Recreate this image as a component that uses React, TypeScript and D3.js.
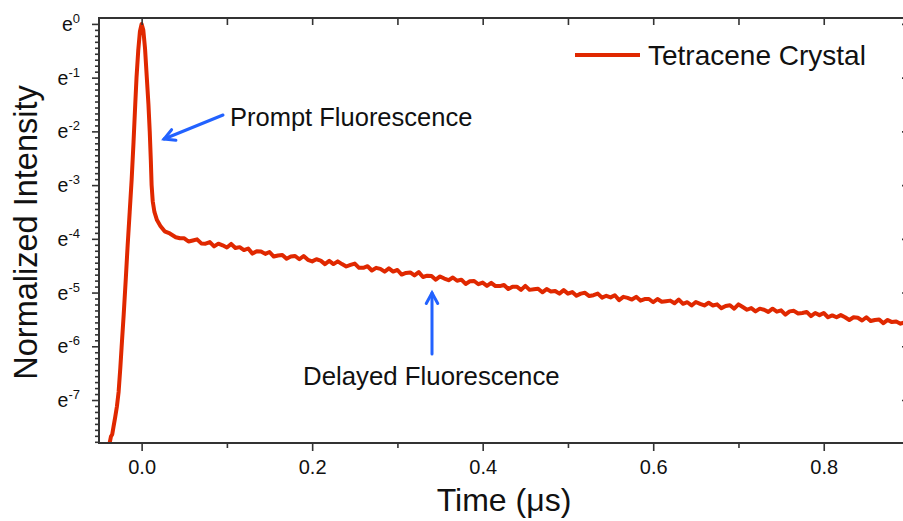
import React, { useEffect, useRef } from 'react';
import * as d3 from 'd3';

// tick values
const xMajor = [0, 0.2, 0.4, 0.6, 0.8];
const xMinor = [0.1, 0.3, 0.5, 0.7];
const yPowers = [0, -1, -2, -3, -4, -5, -6, -7];
const seriesName = 'Tetracene Crystal';

// prompt peak, [time (µs), ln(normalized intensity)]
const peak: [number, number][] = [
  [-0.0385, -7.95], [-0.0375, -7.8], [-0.036, -7.68], [-0.0345, -7.64], [-0.033, -7.5],
  [-0.031, -7.32], [-0.029, -7.12], [-0.027, -6.85], [-0.025, -6.4], [-0.0235, -6.02],
  [-0.021, -5.4], [-0.0185, -4.72], [-0.0164, -4.12], [-0.014, -3.5], [-0.0117, -2.9],
  [-0.0095, -2.2], [-0.0075, -1.5], [-0.006, -1.0], [-0.004, -0.5], [-0.002, -0.14],
  [0, 0], [0.002, -0.12], [0.004, -0.46], [0.006, -0.98], [0.008, -1.5],
  [0.0095, -2.0], [0.0108, -2.55], [0.0117, -3.0], [0.013, -3.3], [0.015, -3.5],
  [0.018, -3.65], [0.022, -3.76], [0.027, -3.86], [0.033, -3.9], [0.04, -3.97],
];

// delayed tail, [time (µs), ln(normalized intensity)]
const tail: [number, number][] = [
  [0.045, -3.99], [0.05, -3.99], [0.055, -4.05], [0.06, -4.03], [0.065, -4.01],
  [0.07, -4.085], [0.075, -4.09], [0.08, -4.06], [0.085, -4.14], [0.09, -4.09],
  [0.095, -4.12], [0.1, -4.16], [0.105, -4.095], [0.11, -4.17], [0.115, -4.155],
  [0.12, -4.21], [0.125, -4.18], [0.13, -4.275], [0.135, -4.23], [0.14, -4.235],
  [0.145, -4.28], [0.15, -4.245], [0.155, -4.33], [0.16, -4.31], [0.165, -4.3],
  [0.17, -4.37], [0.175, -4.33], [0.18, -4.32], [0.185, -4.38], [0.19, -4.32],
  [0.195, -4.39], [0.2, -4.42], [0.205, -4.38], [0.21, -4.405], [0.215, -4.47],
  [0.22, -4.41], [0.225, -4.47], [0.23, -4.42], [0.235, -4.47], [0.24, -4.515],
  [0.245, -4.485], [0.25, -4.46], [0.255, -4.54], [0.26, -4.54], [0.265, -4.51],
  [0.27, -4.59], [0.275, -4.54], [0.28, -4.56], [0.285, -4.61], [0.29, -4.55],
  [0.295, -4.61], [0.3, -4.58], [0.305, -4.665], [0.31, -4.635], [0.315, -4.625],
  [0.32, -4.68], [0.325, -4.62], [0.33, -4.71], [0.335, -4.685], [0.34, -4.69],
  [0.345, -4.76], [0.35, -4.7], [0.355, -4.74], [0.36, -4.77], [0.365, -4.72],
  [0.37, -4.78], [0.375, -4.76], [0.38, -4.84], [0.385, -4.79], [0.39, -4.785],
  [0.395, -4.845], [0.4, -4.815], [0.405, -4.875], [0.41, -4.82], [0.415, -4.88],
  [0.42, -4.88], [0.425, -4.86], [0.43, -4.935], [0.435, -4.89], [0.44, -4.89],
  [0.445, -4.95], [0.45, -4.875], [0.455, -4.95], [0.46, -4.94], [0.465, -4.93],
  [0.47, -4.995], [0.475, -4.935], [0.48, -4.98], [0.485, -4.97], [0.49, -5.02],
  [0.495, -4.955], [0.5, -5.02], [0.505, -4.99], [0.51, -5.06], [0.515, -5.02],
  [0.52, -5.005], [0.525, -5.065], [0.53, -5.05], [0.535, -5.02], [0.54, -5.095],
  [0.545, -5.06], [0.55, -5.09], [0.555, -5.05], [0.56, -5.14], [0.565, -5.08],
  [0.57, -5.1], [0.575, -5.13], [0.58, -5.08], [0.585, -5.15], [0.59, -5.12],
  [0.595, -5.12], [0.6, -5.18], [0.605, -5.12], [0.61, -5.17], [0.615, -5.16],
  [0.62, -5.15], [0.625, -5.2], [0.63, -5.13], [0.635, -5.21], [0.64, -5.18],
  [0.645, -5.24], [0.65, -5.175], [0.655, -5.21], [0.66, -5.24], [0.665, -5.19],
  [0.67, -5.24], [0.675, -5.22], [0.68, -5.29], [0.685, -5.25], [0.69, -5.235],
  [0.695, -5.3], [0.7, -5.22], [0.705, -5.27], [0.71, -5.32], [0.715, -5.29],
  [0.72, -5.35], [0.725, -5.3], [0.73, -5.32], [0.735, -5.36], [0.74, -5.3],
  [0.745, -5.355], [0.75, -5.33], [0.755, -5.41], [0.76, -5.35], [0.765, -5.34],
  [0.77, -5.39], [0.775, -5.38], [0.78, -5.36], [0.785, -5.44], [0.79, -5.38],
  [0.795, -5.42], [0.8, -5.38], [0.805, -5.46], [0.81, -5.425], [0.815, -5.46],
  [0.82, -5.42], [0.825, -5.46], [0.83, -5.51], [0.835, -5.46], [0.84, -5.47],
  [0.845, -5.52], [0.85, -5.46], [0.855, -5.53], [0.86, -5.51], [0.865, -5.5],
  [0.87, -5.57], [0.875, -5.51], [0.88, -5.55], [0.885, -5.54], [0.89, -5.58],
  [0.895, -5.55], [0.9, -5.59],
];

const W = 903;
const H = 521;
const font = '"Liberation Sans", Arial, sans-serif';
const red = '#e02800';
const blue = '#2262ff';
const axisColor = '#333';

function App() {
  const ref = useRef<SVGSVGElement>(null);

  useEffect(() => {
    const svg = d3.select(ref.current);
    svg.selectAll('*').remove();

    const left = 99, right = 909, top = 18, bottom = 443;

    const x = d3.scaleLinear().domain([-0.05, 0.9]).range([left, right]);
    const y = d3.scaleLog().base(Math.E)
      .domain([Math.exp(-7.8), Math.exp(0.11)])
      .range([bottom, top]);

    const yMajor = yPowers.map(p => Math.exp(p));
    const yMinor: number[] = [];
    yPowers.forEach(p => {
      for (let j = 1; j <= 8; j++) {
        const v = p - j / 9;
        if (v > -7.8) yMinor.push(Math.exp(v));
      }
    });

    const defs = svg.append('defs');
    defs.append('clipPath').attr('id', 'plot-clip')
      .append('rect')
      .attr('x', left).attr('y', top)
      .attr('width', right - left).attr('height', bottom - top);

    // data line
    const data = peak.concat(tail);
    const line = d3.line<[number, number]>()
      .x(d => x(d[0]))
      .y(d => y(Math.exp(d[1])));

    svg.append('path')
      .datum(data)
      .attr('clip-path', 'url(#plot-clip)')
      .attr('d', line)
      .attr('fill', 'none')
      .attr('stroke', red)
      .attr('stroke-width', 4)
      .attr('stroke-linejoin', 'round');

    // ticks
    const styleAxis = (g: any) => {
      g.select('.domain').remove();
      g.selectAll('line').attr('stroke', axisColor).attr('stroke-width', 1.6);
    };

    svg.append('g')
      .attr('transform', `translate(${left},0)`)
      .call(d3.axisLeft(y).tickValues(yMajor).tickSize(7).tickFormat(() => ''))
      .call(styleAxis);
    svg.append('g')
      .attr('transform', `translate(${left},0)`)
      .call(d3.axisLeft(y).tickValues(yMinor).tickSize(4).tickFormat(() => ''))
      .call(styleAxis);
    svg.append('g')
      .attr('transform', `translate(${right},0)`)
      .call(d3.axisRight(y).tickValues(yMajor).tickSize(-7).tickFormat(() => ''))
      .call(styleAxis);

    svg.append('g')
      .attr('transform', `translate(0,${bottom})`)
      .call(d3.axisBottom(x).tickValues(xMajor).tickSize(8).tickFormat(d3.format('.1f')))
      .call(styleAxis)
      .call((g: any) => g.selectAll('text')
        .attr('font-family', font).attr('font-size', 20).attr('fill', '#111')
        .attr('y', 17));
    svg.append('g')
      .attr('transform', `translate(0,${bottom})`)
      .call(d3.axisBottom(x).tickValues(xMinor).tickSize(5).tickFormat(() => ''))
      .call(styleAxis);
    svg.append('g')
      .attr('transform', `translate(0,${top})`)
      .call(d3.axisBottom(x).tickValues(xMajor.concat(xMinor)).tickSize(7).tickFormat(() => ''))
      .call(styleAxis);

    // y tick labels e^n
    const yl = svg.append('g')
      .attr('font-family', font)
      .attr('fill', '#111')
      .attr('text-anchor', 'end');
    yPowers.forEach(p => {
      const t = yl.append('text')
        .attr('x', 80)
        .attr('y', y(Math.exp(p)) + 7)
        .attr('font-size', 19.5);
      t.append('tspan').text('e');
      t.append('tspan').attr('font-size', 13).attr('dy', -8).text(String(p));
    });

    // frame
    svg.append('path')
      .attr('d', `M${left},${bottom}V${top}H${right}V${bottom}Z`)
      .attr('fill', 'none')
      .attr('stroke', axisColor)
      .attr('stroke-width', 2);

    // axis titles
    svg.append('text')
      .attr('x', 504).attr('y', 511)
      .attr('text-anchor', 'middle')
      .attr('font-family', font).attr('font-size', 32).attr('fill', '#111')
      .text('Time (μs)');
    svg.append('text')
      .attr('transform', `translate(37,${(top + bottom) / 2 + 2}) rotate(-90)`)
      .attr('text-anchor', 'middle')
      .attr('font-family', font).attr('font-size', 32.5).attr('fill', '#111')
      .text('Normalized Intensity');

    // legend
    svg.append('line')
      .attr('x1', 575).attr('x2', 640).attr('y1', 55).attr('y2', 55)
      .attr('stroke', red).attr('stroke-width', 4);
    svg.append('text')
      .attr('x', 648).attr('y', 65)
      .attr('font-family', font).attr('font-size', 28).attr('fill', '#111')
      .text(seriesName);

    // annotations
    const arrow = (x1: number, y1: number, x2: number, y2: number) => {
      const a = Math.atan2(y2 - y1, x2 - x1);
      const L = 12, s = 0.5;
      const g = svg.append('g')
        .attr('stroke', blue).attr('stroke-width', 3)
        .attr('fill', 'none').attr('stroke-linecap', 'round');
      g.append('line').attr('x1', x1).attr('y1', y1).attr('x2', x2).attr('y2', y2);
      g.append('path').attr('d',
        `M${x2 - L * Math.cos(a - s)},${y2 - L * Math.sin(a - s)}L${x2},${y2}L${x2 - L * Math.cos(a + s)},${y2 - L * Math.sin(a + s)}`);
    };
    arrow(223, 115, 164, 139);
    arrow(432, 354, 432, 293);

    svg.append('text')
      .attr('x', 230).attr('y', 126)
      .attr('font-family', font).attr('font-size', 25.5).attr('fill', '#111')
      .text('Prompt Fluorescence');
    svg.append('text')
      .attr('x', 303).attr('y', 385)
      .attr('font-family', font).attr('font-size', 25.8).attr('fill', '#111')
      .text('Delayed Fluorescence');
  }, []);

  return (
    <svg
      ref={ref}
      width={W}
      height={H}
      style={{ position: 'absolute', left: 0, top: 0, background: '#fff' }}
    />
  );
}

export default App;
